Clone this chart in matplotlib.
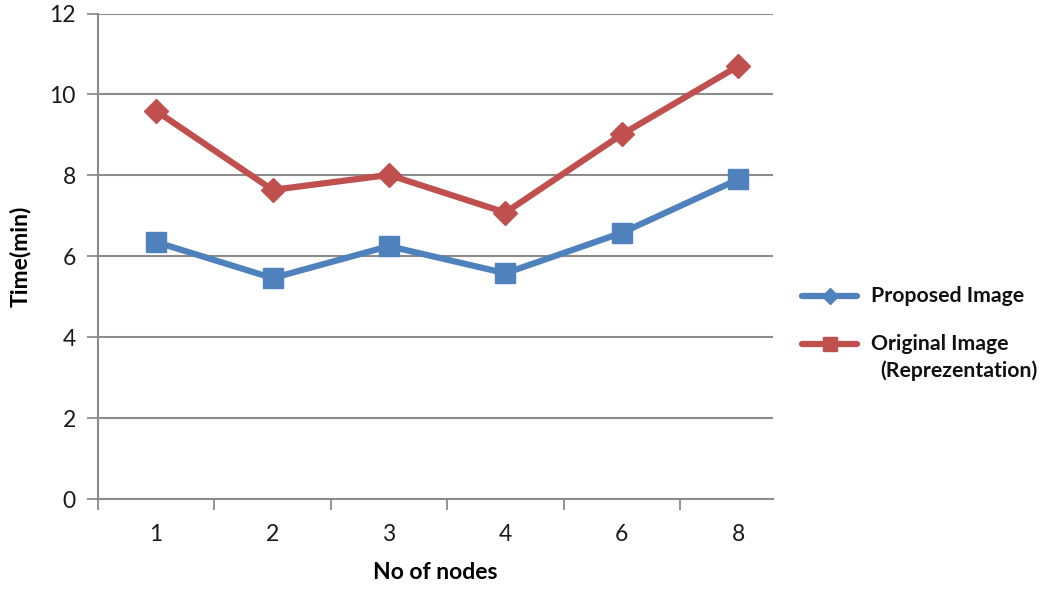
import matplotlib
matplotlib.use("Agg")
import matplotlib.pyplot as plt
from matplotlib.lines import Line2D
import numpy as np

categories = ["1", "2", "3", "4", "6", "8"]
proposed = [6.35, 5.46, 6.25, 5.58, 6.58, 7.90]
original = [9.59, 7.64, 8.01, 7.08, 9.01, 10.70]
y_ticks = [0, 2, 4, 6, 8, 10, 12]

BLUE = "#4F81BD"
RED = "#C0504D"
GRID = "#8C8C8C"
FONT = ["Lato", "DejaVu Sans"]
plt.rcParams['font.family'] = FONT

W, H = 1049, 592
fig = plt.figure(figsize=(W / 100, H / 100), dpi=100)
ax = fig.add_axes([98 / W, (H - 499) / H, (773 - 98) / W, (499 - 13.5) / H])

x = np.arange(1, len(categories) + 1)
ax.plot(x, original, color=RED, lw=4.5, marker="D", ms=12, mec=RED, mfc=RED,
        solid_joinstyle="round", zorder=3)
ax.plot(x, proposed, color=BLUE, lw=4.5, marker="s", ms=14, mec=BLUE, mfc=BLUE,
        solid_joinstyle="round", zorder=3)

ax.set_ylim(0, 12)
ax.set_xlim(0.5, 0.5 + (773 - 98) / 116.4)
ax.set_yticks(y_ticks)
ax.set_yticklabels([str(v) for v in y_ticks], fontsize=16.5, color="#1a1a1a")
ax.set_xticks(x)
ax.set_xticklabels(categories, fontsize=16.5, color="#1a1a1a")
ax.set_xticks(np.arange(0.5, len(categories), 1.0), minor=True)
ax.tick_params(axis="x", which="major", length=0, pad=18)
ax.tick_params(axis="x", which="minor", length=8, width=1.3, color=GRID, direction="out")
ax.tick_params(axis="y", length=8, width=1.3, color=GRID, direction="out", pad=8)

ax.grid(axis="y", color=GRID, lw=1.5, zorder=0)
ax.set_axisbelow(True)
for s in ["top", "right"]:
    ax.spines[s].set_visible(False)
for s in ["left", "bottom"]:
    ax.spines[s].set_color(GRID)
    ax.spines[s].set_linewidth(1.5)

ax.set_ylabel("Time(min)", fontsize=16.5, fontweight="bold", labelpad=13)
ax.set_xlabel("No of nodes", fontsize=16.5, fontweight="bold", labelpad=12)

# legend (drawn manually to match layout)
def fx(px):
    return px / W
def fy(py):
    return 1 - py / H

fig.add_artist(Line2D([fx(802), fx(857)], [fy(296), fy(296)], color=BLUE, lw=4.5,
                      solid_capstyle="round", transform=fig.transFigure))
fig.add_artist(Line2D([fx(829.5)], [fy(296)], color=BLUE, marker="D", ms=8,
                      transform=fig.transFigure))
fig.text(fx(871), fy(296), "Proposed Image", fontsize=15.3, fontweight="bold",
         va="center", ha="left", color="#111111")

fig.add_artist(Line2D([fx(802), fx(857)], [fy(344), fy(344)], color=RED, lw=4.5,
                      solid_capstyle="round", transform=fig.transFigure))
fig.add_artist(Line2D([fx(829.5)], [fy(344)], color=RED, marker="s", ms=10,
                      transform=fig.transFigure))
fig.text(fx(871), fy(344), "Original Image", fontsize=15.3, fontweight="bold",
         va="center", ha="left", color="#111111")
fig.text(fx(880), fy(371), "(Reprezentation)", fontsize=15.3, fontweight="bold",
         va="center", ha="left", color="#111111")

fig.savefig("out.png", dpi=100, facecolor="white")
